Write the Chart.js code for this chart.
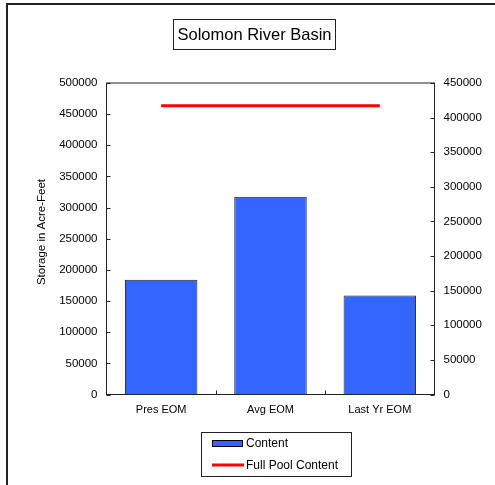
<!DOCTYPE html>
<html>
<head>
<meta charset="utf-8">
<script src="https://cdn.jsdelivr.net/npm/chart.js@4.4.1/dist/chart.umd.min.js"></script>
<style>
  html, body { margin: 0; padding: 0; background: #fff; }
  #wrap { width: 495px; height: 485px; position: relative; }
</style>
</head>
<body>
<div id="wrap"><canvas id="chart"></canvas></div>
<script>
const categories = ['Pres EOM', 'Avg EOM', 'Last Yr EOM'];
const contentValues = [184000, 317600, 158800];
const fullPoolValues = [417300, 417300, 417300];
const leftAxisMax = 500000;
const rightAxisMax = 450000;
const tickStep = 50000;

const FONT = '"Liberation Sans", Arial, sans-serif';

// inward tick marks, plot frame, boxed title, boxed legend, outer frame
const decorations = {
  id: 'decorations',
  afterDraw(chart) {
    const ctx = chart.ctx;
    const area = chart.chartArea;
    const sx = chart.scales.x, sy = chart.scales.y, sy1 = chart.scales.y1;
    ctx.save();

    ctx.strokeStyle = '#222';
    ctx.lineWidth = 1;
    ctx.strokeRect(area.left, area.top, area.right - area.left, area.bottom - area.top);

    ctx.beginPath();
    sy.ticks.forEach(t => {
      const py = Math.round(sy.getPixelForValue(t.value)) + 0.5;
      ctx.moveTo(area.left, py); ctx.lineTo(area.left + 4, py);
    });
    sy1.ticks.forEach(t => {
      const py = Math.round(sy1.getPixelForValue(t.value)) + 0.5;
      ctx.moveTo(area.right, py); ctx.lineTo(area.right - 4, py);
    });
    for (let i = 1; i < categories.length; i++) {
      const px = Math.round((sx.getPixelForValue(i - 1) + sx.getPixelForValue(i)) / 2) + 0.5;
      ctx.moveTo(px, area.bottom); ctx.lineTo(px, area.bottom - 4);
    }
    ctx.stroke();

    // y axis title
    ctx.fillStyle = '#000';
    ctx.font = '11.5px ' + FONT;
    ctx.textAlign = 'center';
    ctx.textBaseline = 'middle';
    ctx.save();
    ctx.translate(42, 232);
    ctx.rotate(-Math.PI / 2);
    ctx.fillText('Storage in Acre-Feet', 0, 0);
    ctx.restore();

    // title
    ctx.lineWidth = 1;
    ctx.strokeStyle = '#222';
    ctx.strokeRect(173.5, 19.5, 162, 30);
    ctx.fillStyle = '#000';
    ctx.font = '16.5px ' + FONT;
    ctx.fillText('Solomon River Basin', 254.5, 35);

    // legend
    const bars = chart.data.datasets[1];
    const line = chart.data.datasets[0];
    ctx.strokeRect(201.5, 432.5, 150, 44);
    ctx.fillStyle = bars.backgroundColor;
    ctx.fillRect(212, 440, 31, 7);
    ctx.strokeStyle = '#000';
    ctx.strokeRect(212.5, 440.5, 30, 6);
    ctx.beginPath();
    ctx.strokeStyle = line.borderColor;
    ctx.lineWidth = 3;
    ctx.moveTo(212, 465); ctx.lineTo(244, 465);
    ctx.stroke();
    ctx.fillStyle = '#000';
    ctx.font = '12px ' + FONT;
    ctx.textAlign = 'left';
    ctx.fillText(bars.label, 246, 444);
    ctx.fillText(line.label, 246, 466);

    // outer frame (left and top edges)
    ctx.beginPath();
    ctx.strokeStyle = '#222';
    ctx.lineWidth = 2;
    ctx.moveTo(7, 485); ctx.lineTo(7, 4); ctx.lineTo(495, 4);
    ctx.stroke();

    ctx.restore();
  }
};

const plainTick = v => String(v);

new Chart(document.getElementById('chart'), {
  data: {
    labels: categories,
    datasets: [
      {
        type: 'line',
        label: 'Full Pool Content',
        data: fullPoolValues,
        yAxisID: 'y1',
        borderColor: '#FF0000',
        borderWidth: 3,
        pointRadius: 0,
        fill: false,
        order: 0
      },
      {
        type: 'bar',
        label: 'Content',
        data: contentValues,
        yAxisID: 'y',
        backgroundColor: '#3366FF',
        borderColor: '#222',
        borderWidth: 1,
        categoryPercentage: 1,
        barPercentage: 0.663,
        order: 1
      }
    ]
  },
  options: {
    responsive: true,
    maintainAspectRatio: false,
    animation: false,
    layout: { padding: { top: 83, left: 0, right: 0, bottom: 0 } },
    plugins: {
      legend: { display: false },
      title: { display: false },
      tooltip: { enabled: false }
    },
    scales: {
      x: {
        grid: { display: false, drawTicks: false },
        border: { display: false },
        ticks: { color: '#000', font: { family: FONT, size: 11 }, padding: 9, maxRotation: 0 },
        afterFit: s => { s.height = 90.5; }
      },
      y: {
        position: 'left',
        min: 0,
        max: leftAxisMax,
        grid: { display: false, drawTicks: false },
        border: { display: false },
        ticks: { stepSize: tickStep, color: '#000', font: { family: FONT, size: 11.5 }, padding: 9, callback: plainTick },
        afterFit: s => { s.width = 106.5; }
      },
      y1: {
        position: 'right',
        min: 0,
        max: rightAxisMax,
        grid: { display: false, drawTicks: false },
        border: { display: false },
        ticks: { stepSize: tickStep, color: '#000', font: { family: FONT, size: 11.5 }, padding: 9, callback: plainTick },
        afterFit: s => { s.width = 60.5; }
      }
    }
  },
  plugins: [decorations]
});
</script>
</body>
</html>
